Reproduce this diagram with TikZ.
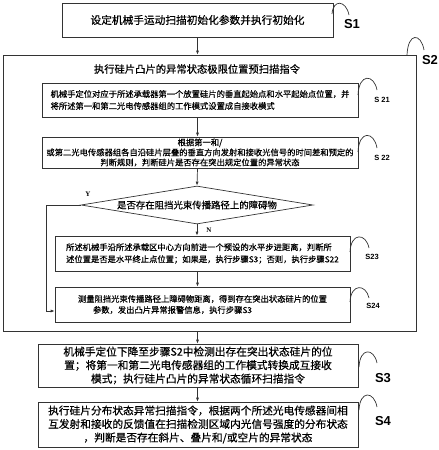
\documentclass[tikz,border=0pt]{standalone}
\usepackage{fontspec}
\setmainfont{Noto Sans CJK SC}[FakeBold=0.5]
\newfontfamily\lab{Liberation Sans}
\newfontfamily\yn{Liberation Serif}
\usetikzlibrary{arrows.meta,shapes.geometric}
\begin{document}
\begin{tikzpicture}[x=1pt,y=-1pt,
  box/.style={draw=black!80, line width=0.7pt, rectangle, inner sep=0pt},
  small/.style={font=\fontsize{8.3}{12}\selectfont},
  big/.style={font=\fontsize{10.7}{13.5}\selectfont},
  arr/.style={draw=black!80, line width=0.7pt, -{Latex[length=4pt,width=3pt]}},
  lbl/.style={font=\lab\bfseries\fontsize{13}{13}\selectfont},
  slbl/.style={font=\lab\bfseries\fontsize{7.5}{7.5}\selectfont},
  ynl/.style={font=\yn\bfseries\fontsize{7}{7}\selectfont},
  hook/.style={draw=black!80, line width=0.7pt}]
\useasboundingbox (0,0) rectangle (439,450);
\coordinate (col) at (197.5,0);

\node[box, big, minimum width=271pt, minimum height=34pt] (s1) at (197.5,20) {设定机械手运动扫描初始化参数并执行初始化};
\node[box, minimum width=413pt, minimum height=276pt] (s2) at (209.5,193) {};
\node[font=\fontsize{10.3}{12}\selectfont] (t2) at (197,69) {执行硅片凸片的异常状态极限位置预扫描指令};

\node[box, small, align=left, minimum width=316pt, minimum height=34pt] (s21) at (200,100)
  {机械手定位对应于所述承载器第一个放置硅片的垂直起始点和水平起始点位置，并\\将所述第一和第二光电传感器组的工作模式设置成自接收模式};
\node[box, align=center, font=\fontsize{8.3}{10}\selectfont, minimum width=316pt, minimum height=31pt] (s22) at (200,152.5)
  {根据第一和/\\或第二光电传感器组各自沿硅片层叠的垂直方向发射和接收光信号的时间差和预定的\\判断规则，判断硅片是否存在突出规定位置的异常状态};
\node[draw=black!80, line width=0.7pt, diamond, aspect=5.5, inner sep=0pt, minimum width=232pt, minimum height=38pt, font=\fontsize{9.4}{11}\selectfont] (d) at (197,205)
  {是否存在阻挡光束传播路径上的障碍物};
\node[box, small, align=left, minimum width=295pt, minimum height=35pt] (s23) at (202.5,253.5)
  {所述机械手沿所述承载区中心方向前进一个预设的水平步进距离，判断所\\述位置是否是水平终止点位置；如果是，执行步骤S3；否则，执行步骤S22};
\node[box, align=left, font=\fontsize{8.3}{11}\selectfont, minimum width=295pt, minimum height=35pt] (s24) at (202.5,304.5)
  {测量阻挡光束传播路径上障碍物距离，得到存在突出状态硅片的位置\\\hspace*{15pt}参数，发出凸片异常报警信息，执行步骤S3};

\node[box, big, align=center, minimum width=320pt, minimum height=43pt] (s3) at (198,365.5)
  {机械手定位下降至步骤S2中检测出存在突出状态硅片的位\\置；将第一和第二光电传感器组的工作模式转换成互接收\\模式；执行硅片凸片的异常状态循环扫描指令};
\node[box, big, align=center, minimum width=320pt, minimum height=45pt] (s4) at (198,424.5)
  {执行硅片分布状态异常扫描指令，根据两个所述光电传感器间相\\互发射和接收的反馈值在扫描检测区域内光信号强度的分布状态\\，判断是否存在斜片、叠片和/或空片的异常状态};

% connectors
\draw[arr] (s1.south) -- (s1.south |- s2.north);
\draw[arr] (s21.south -| col) -- (s22.north -| col);
\draw[arr] (s22.south -| col) -- (d.north);
\draw[arr] (d.south) -- (s23.north -| d.south);
\draw[arr] (s23.south -| col) -- (s24.north -| col);
\coordinate (yc) at (46,311);
\draw[arr] (d.west) -| (yc) -- (s24.west |- yc);
\draw[arr] (s2.south -| col) -- (s3.north -| col);
\draw[arr] (s3.south -| col) -- (s4.north -| col);
\node[ynl] (ylab) at (88,194) {Y};
\node[ynl] (nlab) at (209,230) {N};

% step labels
\draw[hook] (332,14) .. controls +(1,-15) and +(-3,-15) .. (349,15);
\node[lbl] (l1) at (352,24) {S1};
\draw[hook] (407,55) .. controls +(1,-23) and +(-3,-17) .. (424,50);
\node[lbl] (l2) at (430,60) {S2};
\draw[hook] (358,95) .. controls +(1,-22) and +(-3,-16) .. (377,90);
\node[slbl] (l21) at (382,100) {S 21};
\draw[hook] (358,152) .. controls +(1,-22) and +(-3,-17) .. (377,148);
\node[slbl] (l22) at (382,158) {S 22};
\draw[hook] (350,252) .. controls +(1,-20) and +(-3,-15) .. (369,248);
\node[slbl] (l23) at (372,257) {S23};
\draw[hook] (350,302) .. controls +(1,-19) and +(-3,-14) .. (369,298);
\node[slbl] (l24) at (373,306) {S24};
\draw[hook] (359,367) .. controls +(1,-20) and +(-3,-15) .. (377,363);
\node[lbl] (l3) at (383,378) {S3};
\draw[hook] (359,410) .. controls +(1,-20) and +(-3,-16) .. (377,407);
\node[lbl] (l4) at (383,421) {S4};
\end{tikzpicture}
\end{document}
